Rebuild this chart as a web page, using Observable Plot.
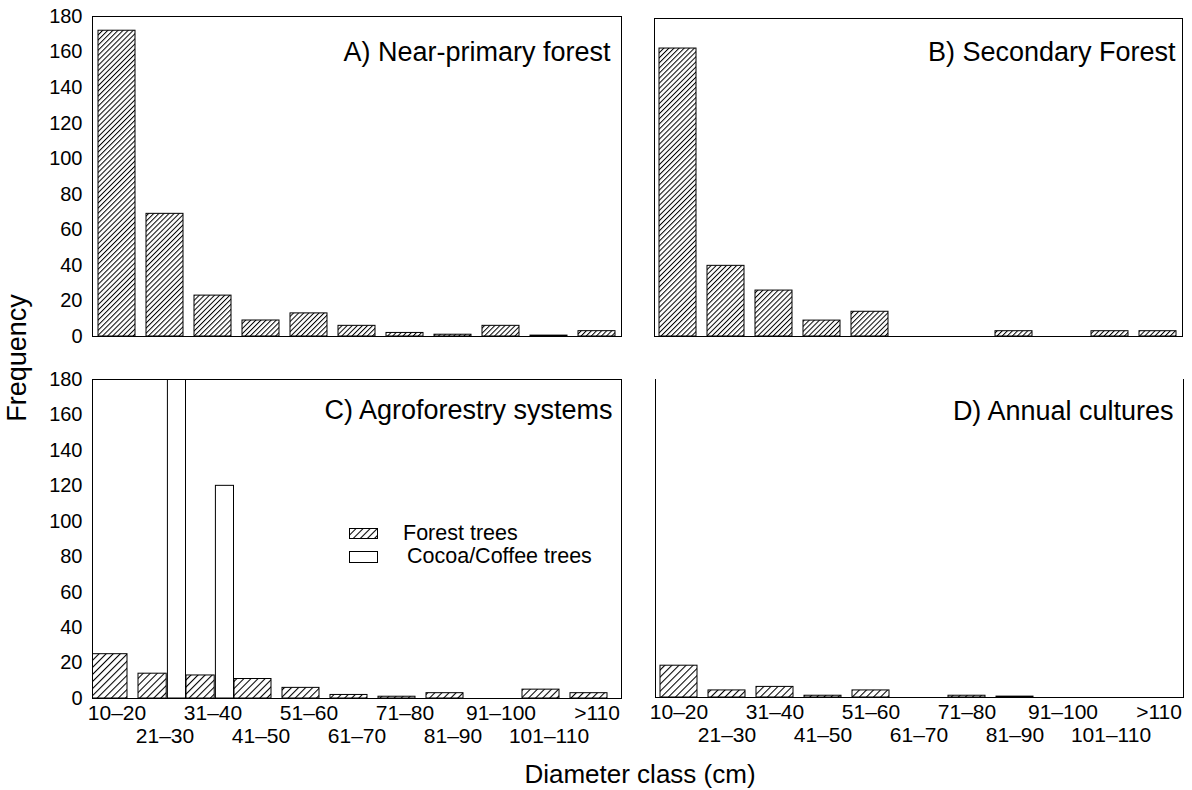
<!DOCTYPE html>
<html>
<head>
<meta charset="utf-8">
<script src="https://cdn.jsdelivr.net/npm/d3@7"></script>
<script src="https://cdn.jsdelivr.net/npm/@observablehq/plot@0.6"></script>
<style>
  body { margin: 0; background: #fff; }
  #wrap { position: relative; width: 1192px; height: 790px; background: #fff; overflow: hidden;
          font-family: "Liberation Sans", Arial, Helvetica, sans-serif; }
  .panel { position: absolute; }
  #overlay { position: absolute; left: 0; top: 0; pointer-events: none; }
</style>
</head>
<body>
<svg width="0" height="0" style="position:absolute">
  <defs>
    <pattern id="hatchFine" patternUnits="userSpaceOnUse" width="3.6" height="10" patternTransform="rotate(45)">
      <rect width="3.6" height="10" fill="#fff"/>
      <line x1="0.5" y1="0" x2="0.5" y2="10" stroke="#000" stroke-width="1"/>
    </pattern>
    <pattern id="hatchCoarse" patternUnits="userSpaceOnUse" width="5" height="10" patternTransform="rotate(45)">
      <rect width="5" height="10" fill="#fff"/>
      <line x1="0.5" y1="0" x2="0.5" y2="10" stroke="#000" stroke-width="1.1"/>
    </pattern>
  </defs>
</svg>
<div id="wrap"></div>
<script>
// ---------- data ----------
const classes = ["10–20", "21–30", "31–40", "41–50", "51–60", "61–70", "71–80", "81–90", "91–100", "101–110", ">110"];
const nearPrimary = [172, 69, 23, 9, 13, 6, 2, 1, 6, 0.5, 3];
const secondary   = [163, 40, 26, 9, 14, 0, 0, 3, 0, 3, 3];
const agroForest  = [25, 14, 13, 11, 6, 2, 1, 3, 0, 5, 3];
const agroCocoa   = [0, 180, 120, 0, 0, 0, 0, 0, 0, 0, 0];
const annual      = [18, 4, 6, 1, 4, 0, 1, 0.5, 0, 0, 0];
const yTicks = [0, 20, 40, 60, 80, 100, 120, 140, 160, 180];
const panelTitles = ["A) Near-primary forest", "B) Secondary Forest", "C) Agroforestry systems", "D) Annual cultures"];
const legendLabels = ["Forest trees", "Cocoa/Coffee trees"];
const xTitle = "Diameter class (cm)";
const yTitle = "Frequency";

// ---------- helpers ----------
const FONT = '"Liberation Sans", Arial, Helvetica, sans-serif';
const rows = (values) => classes.map((c, i) => ({cls: c, value: values[i], i}));
const evenCls = classes.filter((d, i) => i % 2 === 0);
const oddCls = classes.filter((d, i) => i % 2 === 1);

function panel({width, height, mt, mr, mb, ml, xAxis, yAxis, marks}) {
  const x = {type: "band", domain: classes, paddingInner: 0.22, paddingOuter: 0.095};
  if (!xAxis) x.axis = null;
  const y = {domain: [0, 180]};
  if (!yAxis) y.axis = null;
  return Plot.plot({
    width, height,
    marginTop: mt, marginRight: mr, marginBottom: mb, marginLeft: ml,
    style: {fontFamily: FONT, fontSize: "20px", color: "#000", background: "#fff", overflow: "visible"},
    x, y,
    marks
  });
}

const yAxisMark = () => Plot.axisY({ticks: yTicks, tickSize: 0, tickPadding: 10, label: null, fontSize: 20});
const xAxisMarks = () => [
  Plot.axisX({ticks: evenCls, tickSize: 0, tickPadding: 7, label: null, fontSize: 21}),
  Plot.axisX({ticks: oddCls, tickSize: 0, tickPadding: 30, label: null, fontSize: 21})
];
const titleMark = (t, dx, dy) => Plot.text([t], {frameAnchor: "top-right", text: d => d, dx, dy, textAnchor: "end", fontSize: 27});

const wrap = document.getElementById("wrap");
function place(svg, left, top, w) {
  const d = document.createElement("div");
  d.className = "panel";
  d.style.left = left + "px";
  d.style.top = top + "px";
  d.style.width = w + "px";
  d.appendChild(svg);
  wrap.appendChild(d);
}

// A) Near-primary forest
place(panel({
  width: 640, height: 350, mt: 16, mr: 19, mb: 14, ml: 92, xAxis: false, yAxis: true,
  marks: [
    Plot.barY(rows(nearPrimary), {x: "cls", y: "value", fill: "url(#hatchFine)", stroke: "#000", strokeWidth: 1}),
    Plot.frame({stroke: "#000", strokeWidth: 1}),
    yAxisMark(),
    titleMark(panelTitles[0], -11, 25)
  ]
}), 0, 0, 640);

// B) Secondary Forest
place(panel({
  width: 552, height: 350, mt: 18, mr: 10, mb: 14, ml: 14, xAxis: false, yAxis: false,
  marks: [
    Plot.barY(rows(secondary), {x: "cls", y: "value", fill: "url(#hatchFine)", stroke: "#000", strokeWidth: 1}),
    Plot.frame({stroke: "#000", strokeWidth: 1}),
    titleMark(panelTitles[1], -7, 23)
  ]
}), 640, 0, 552);

// C) Agroforestry systems
const cRows = rows(agroForest);
place(panel({
  width: 640, height: 410, mt: 29, mr: 19, mb: 62, ml: 92, xAxis: true, yAxis: true,
  marks: [
    Plot.barY(cRows.filter(d => !(agroCocoa[d.i] > 0)), {x: "cls", y: "value", dx: -8, clip: true,
      fill: "url(#hatchCoarse)", stroke: "#000", strokeWidth: 1}),
    Plot.barY(cRows.filter(d => agroCocoa[d.i] > 0), {x: "cls", y: "value", dx: -8, insetRight: 8.8, clip: true,
      fill: "url(#hatchCoarse)", stroke: "#000", strokeWidth: 1}),
    Plot.barY(rows(agroCocoa).filter(d => d.value > 0), {x: "cls", y: "value", dx: -8, insetLeft: 29.4, insetRight: -10.5,
      clip: true, fill: "#fff", stroke: "#000", strokeWidth: 1}),
    Plot.frame({stroke: "#000", strokeWidth: 1}),
    yAxisMark(),
    ...xAxisMarks(),
    titleMark(panelTitles[2], -9, 20)
  ]
}), 0, 350, 640);

// D) Annual cultures (no continuous top border in the reference)
place(panel({
  width: 552, height: 410, mt: 29, mr: 9, mb: 63, ml: 15, xAxis: true, yAxis: false,
  marks: [
    Plot.barY(rows(annual), {x: "cls", y: "value", fill: "url(#hatchCoarse)", stroke: "#000", strokeWidth: 1}),
    Plot.frame({anchor: "left", stroke: "#000", strokeWidth: 1}),
    Plot.frame({anchor: "right", stroke: "#000", strokeWidth: 1}),
    Plot.frame({anchor: "bottom", stroke: "#000", strokeWidth: 1}),
    ...xAxisMarks(),
    titleMark(panelTitles[3], -10, 21)
  ]
}), 640, 350, 552);

// Overlay: shared axis titles and legend of panel C
const ns = "http://www.w3.org/2000/svg";
const ov = document.createElementNS(ns, "svg");
ov.setAttribute("id", "overlay");
ov.setAttribute("width", 1192);
ov.setAttribute("height", 790);
ov.setAttribute("font-family", FONT);
function el(tag, attrs, text) {
  const e = document.createElementNS(ns, tag);
  for (const k in attrs) e.setAttribute(k, attrs[k]);
  if (text != null) e.textContent = text;
  ov.appendChild(e);
  return e;
}
el("text", {transform: "translate(26,358) rotate(-90)", "text-anchor": "middle", "font-size": 27, fill: "#000"}, yTitle);
el("text", {x: 640, y: 783, "text-anchor": "middle", "font-size": 26, fill: "#000"}, xTitle);
el("rect", {x: 349.5, y: 528.5, width: 28, height: 10, fill: "url(#hatchCoarse)", stroke: "#000", "stroke-width": 1});
el("rect", {x: 349.5, y: 551.5, width: 28, height: 11, fill: "#fff", stroke: "#000", "stroke-width": 1});
el("text", {x: 403, y: 540, "font-size": 21.5, fill: "#000"}, legendLabels[0]);
el("text", {x: 407, y: 563, "font-size": 21.5, fill: "#000"}, legendLabels[1]);
wrap.appendChild(ov);
</script>
</body>
</html>
